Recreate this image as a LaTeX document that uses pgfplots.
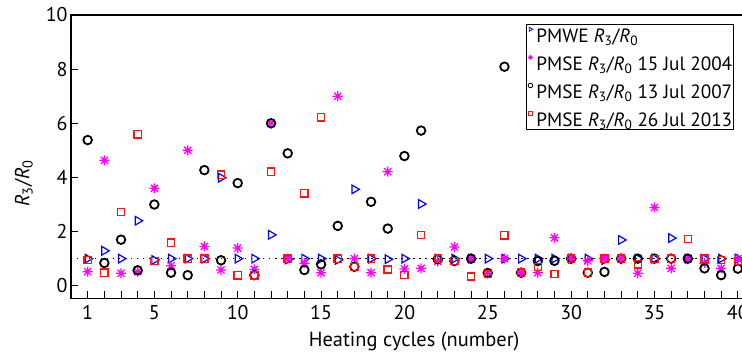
\documentclass[border=0pt]{standalone}
\usepackage{pgfplots}
\pgfplotsset{compat=1.18}
\usepackage{pgfplotstable}
\usepackage{fontspec}
\setmainfont{PT Sans}
\pgfdeclareplotmark{ast8}{%
 \pgfpathmoveto{\pgfqpoint{-\pgfplotmarksize}{0pt}}\pgfpathlineto{\pgfqpoint{\pgfplotmarksize}{0pt}}%
 \pgfpathmoveto{\pgfqpoint{0pt}{-\pgfplotmarksize}}\pgfpathlineto{\pgfqpoint{0pt}{\pgfplotmarksize}}%
 \pgfpathmoveto{\pgfqpoint{-0.7071\pgfplotmarksize}{-0.7071\pgfplotmarksize}}\pgfpathlineto{\pgfqpoint{0.7071\pgfplotmarksize}{0.7071\pgfplotmarksize}}%
 \pgfpathmoveto{\pgfqpoint{-0.7071\pgfplotmarksize}{0.7071\pgfplotmarksize}}\pgfpathlineto{\pgfqpoint{0.7071\pgfplotmarksize}{-0.7071\pgfplotmarksize}}%
 \pgfusepathqstroke}
\definecolor{mred}{RGB}{255,20,20}
\definecolor{mmag}{RGB}{255,0,255}
\definecolor{mblue}{RGB}{0,0,255}
\pgfplotstableread{
n pmwe s04 c07 q13
1 1.00 0.52 5.38 0.95
2 1.29 4.63 0.84 0.48
3 1.00 0.46 1.70 2.73
4 2.40 0.52 0.57 5.59
5 0.95 3.60 3.00 0.91
6 1.00 0.74 0.48 1.59
7 1.00 5.00 0.39 1.00
8 1.00 1.45 4.27 1.00
9 3.99 0.58 0.94 4.10
10 1.00 1.39 3.79 0.38
11 1.00 0.60 0.39 0.38
12 1.88 6.00 6.00 4.21
13 0.97 1.00 4.89 1.00
14 1.00 0.83 0.58 3.41
15 1.00 0.48 0.79 6.22
16 0.95 7.00 2.21 1.00
17 3.56 1.00 0.70 0.70
18 1.00 0.48 3.10 1.00
19 0.98 4.21 2.11 0.60
20 1.00 0.62 4.79 0.39
21 3.02 0.64 5.73 1.88
22 1.00 0.90 0.98 1.00
23 1.00 1.43 0.91 0.91
24 1.00 1.00 1.00 0.34
25 1.00 0.46 0.47 0.44
26 1.00 1.00 8.09 1.86
27 1.00 0.48 0.48 0.48
28 1.00 0.48 0.91 0.70
29 1.00 1.77 0.92 0.44
30 1.00 1.00 1.00 1.00
31 1.00 0.92 0.48 0.48
32 0.95 1.00 0.51 1.00
33 1.69 1.00 1.00 1.00
34 1.00 0.46 1.00 0.79
35 1.00 2.89 1.00 0.98
36 1.76 0.64 1.00 1.00
37 1.00 1.00 1.00 1.72
38 1.00 0.83 0.64 1.00
39 1.00 0.64 0.39 0.95
40 1.00 1.00 0.63 0.92
}\datatable
\begin{document}
\begin{tikzpicture}
\begin{axis}[name=ax,
  scale only axis, width=683.5bp, height=283.3bp,
  xmin=0, xmax=41, ymin=-0.465, ymax=10,
  axis line style={line width=1.3bp},
  every tick/.style={black, line width=1bp},
  tick align=inside, xtick pos=bottom, ytick pos=left,
  major tick length=7bp, minor tick length=7bp,
  xtick={1,5,10,15,20,25,30,35,40},
  minor xtick={1,...,40},
  ytick={0,2,4,6,8,10},
  /pgf/number format/assume math mode=true,
  tick label style={font=\fontsize{20}{22}\selectfont},
  xticklabel style={anchor=base, yshift=-20.7bp},
  label style={font=\fontsize{20.5}{22}\selectfont},
  xlabel={Heating cycles (number)},
  ylabel={\textit{R}\textsubscript{3}/\textit{R}\textsubscript{0}},
  xlabel style={at={(axis description cs:0.502,0)}, anchor=base, yshift=-48.4bp},
  ylabel style={at={(axis description cs:-0.069,0.406)}, anchor=center},
  legend cell align=left,
  legend style={at={(rel axis cs:0.6657,0.968)}, anchor=north west,
    draw=black, line width=0.9bp, font=\fontsize{19.3}{22}\selectfont,
    inner sep=1bp, row sep=9.6bp,
    nodes={inner sep=0bp, text height=16.5bp, text depth=2bp}},
  legend image code/.code={\path[draw=none] (0bp,5.5bp) -- (9bp,5.5bp); \draw[#1, mark size=2.3bp, line width=0.8bp] plot coordinates {(3bp,5.5bp)};},
]
\addplot[only marks, mblue, mark=triangle, mark size=5bp, line width=1.2bp, mark options={rotate=-90}] table[x=n,y=pmwe]{\datatable};
\addlegendentry{PMWE \textit{R}\textsubscript{3}/\textit{R}\textsubscript{0}}
\addplot[only marks, mmag, mark=ast8, mark size=5bp, line width=1.3bp] table[x=n,y=s04]{\datatable};
\addlegendentry{PMSE \textit{R}\textsubscript{3}/\textit{R}\textsubscript{0} 15 Jul 2004}
\addplot[only marks, black, mark=o, mark size=4.3bp, line width=1.8bp] table[x=n,y=c07]{\datatable};
\addlegendentry{PMSE \textit{R}\textsubscript{3}/\textit{R}\textsubscript{0} 13 Jul 2007}
\addplot[only marks, mred, mark=square, mark size=3.6bp, line width=1.3bp] table[x=n,y=q13]{\datatable};
\addlegendentry{PMSE \textit{R}\textsubscript{3}/\textit{R}\textsubscript{0} 26 Jul 2013}
\addplot[black, line width=1.2bp, dash pattern=on 1.5bp off 4.5bp, forget plot] coordinates {(0,1) (41,1)};
\end{axis}
\pgfresetboundingbox
\path[use as bounding box] ([xshift=-71bp,yshift=-55.7bp]ax.south west) rectangle ([xshift=671bp,yshift=15bp]ax.north west);
\end{tikzpicture}
\end{document}
